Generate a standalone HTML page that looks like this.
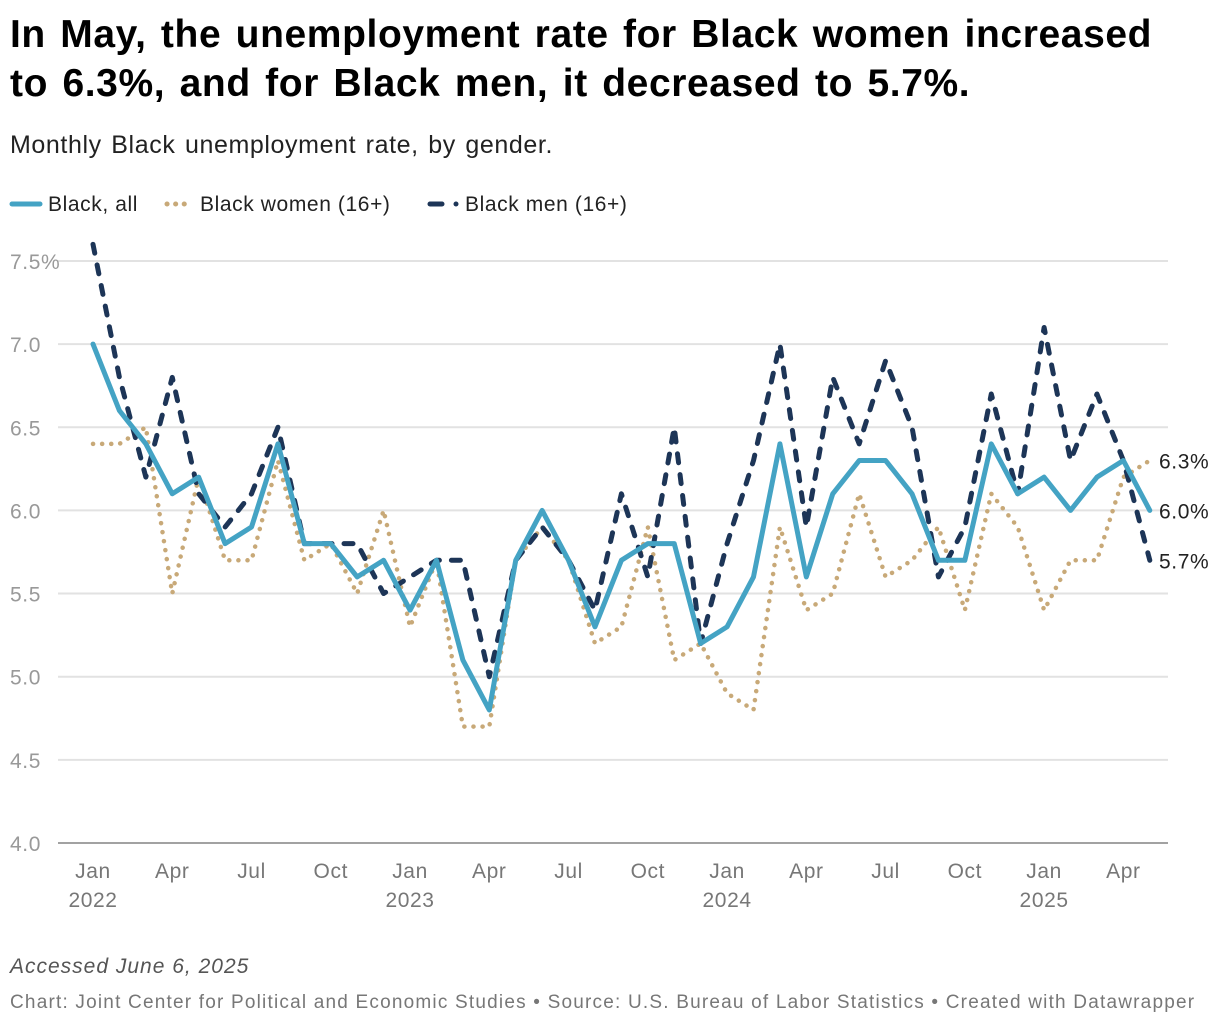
<!DOCTYPE html>
<html><head><meta charset="utf-8"><style>
body{margin:0;width:1220px;height:1028px;background:#fff;font-family:"Liberation Sans",sans-serif;overflow:hidden}
.t{position:absolute;left:10px;top:10px;font-size:39px;font-weight:bold;line-height:49px;color:#000;width:1190px;letter-spacing:0.6px;word-spacing:3px}
.s{position:absolute;left:10px;top:131px;font-size:25px;color:#222;letter-spacing:0.6px;word-spacing:2px}
.f1{position:absolute;left:10px;top:955px;font-size:21px;font-style:italic;color:#555;letter-spacing:1px}
.f2{position:absolute;left:10px;top:992px;font-size:19px;color:#777;letter-spacing:1.2px;white-space:nowrap}
svg text{letter-spacing:0.6px}
</style></head><body>
<div class="t">In May, the unemployment rate for Black women increased to 6.3%, and for Black men, it decreased to 5.7%.</div>
<div class="s">Monthly Black unemployment rate, by gender.</div>
<svg id="c" width="1220" height="1028" style="position:absolute;left:0;top:0"></svg>
<div class="f1">Accessed June 6, 2025</div>
<div class="f2">Chart: Joint Center for Political and Economic Studies • Source: U.S. Bureau of Labor Statistics • Created with Datawrapper</div>
<script>
const yTicks=[4.0,4.5,5.0,5.5,6.0,6.5,7.0,7.5];
const xTickMonths=[0,3,6,9,12,15,18,21,24,27,30,33,36,39];
const xTickLabels=["Jan","Apr","Jul","Oct","Jan","Apr","Jul","Oct","Jan","Apr","Jul","Oct","Jan","Apr"];
const yearLabels=["2022","2023","2024","2025"];
const all=[7.0,6.6,6.4,6.1,6.2,5.8,5.9,6.4,5.8,5.8,5.6,5.7,5.4,5.7,5.1,4.8,5.7,6.0,5.7,5.3,5.7,5.8,5.8,5.2,5.3,5.6,6.4,5.6,6.1,6.3,6.3,6.1,5.7,5.7,6.4,6.1,6.2,6.0,6.2,6.3,6.0];
const women=[6.4,6.4,6.5,5.5,6.2,5.7,5.7,6.3,5.7,5.8,5.5,6.0,5.3,5.7,4.7,4.7,5.7,5.9,5.7,5.2,5.3,5.9,5.1,5.2,4.9,4.8,5.9,5.4,5.5,6.1,5.6,5.7,5.9,5.4,6.1,5.9,5.4,5.7,5.7,6.2,6.3];
const men=[7.6,6.8,6.2,6.8,6.1,5.9,6.1,6.5,5.8,5.8,5.8,5.5,5.6,5.7,5.7,5.0,5.7,5.9,5.7,5.4,6.1,5.6,6.5,5.2,5.8,6.3,7.0,5.9,6.8,6.4,6.9,6.5,5.6,5.9,6.7,6.1,7.1,6.3,6.7,6.3,5.7];
const svg=document.getElementById('c');const NS='http://www.w3.org/2000/svg';
const X=i=>93+i*26.42;const Y=v=>843-(v-4)*166.3;
function mk(t,a,p){const e=document.createElementNS(NS,t);for(const k in a)e.setAttribute(k,a[k]);(p||svg).appendChild(e);return e;}
yTicks.forEach((v,i)=>{
 const l=mk('line',{x1:58,x2:1168,y1:Y(v),y2:Y(v),stroke:i==0?'#444':'#e2e2e2','stroke-width':i==0?1:2});
 
 const t=mk('text',{x:10,y:Y(v)+8,'font-size':21,fill:'#999'});t.textContent=v.toFixed(1)+(i==7?'%':'');
 
});
xTickMonths.forEach((m,i)=>{
 const t=mk('text',{x:X(m),y:878,'font-size':21,fill:'#777','text-anchor':'middle'});t.textContent=xTickLabels[i];
 
});
yearLabels.forEach((y,i)=>{
 const t=mk('text',{x:X(i*12),y:907,'font-size':21,fill:'#777','text-anchor':'middle'});t.textContent=y;
 
});
function line(d,col,w,dash,name){
 const p=mk('polyline',{points:d.map((v,i)=>X(i)+','+Y(v)).join(' '),fill:'none',stroke:col,'stroke-width':w,'stroke-linecap':'round','stroke-linejoin':'round'});
 if(dash)p.setAttribute('stroke-dasharray',dash);
 
}
line(women,'#c8a978',4.5,'0.1 9','line-black-women');
line(men,'#1d3557',5,'9 12','line-black-men');
line(all,'#44a3c4',5,null,'line-black-all');
[[women,'6.3%'],[all,'6.0%'],[men,'5.7%']].forEach(([d,l])=>{
 const t=mk('text',{x:1159,y:Y(d[d.length-1])+8,'font-size':21,fill:'#222'});t.textContent=l;
 
});
const lg=mk('g',{});
mk('line',{x1:12,x2:40,y1:204,y2:204,stroke:'#44a3c4','stroke-width':5,'stroke-linecap':'round'},lg);
let t=mk('text',{x:48,y:211,'font-size':21,fill:'#222'},lg);t.textContent='Black, all';
mk('line',{x1:167,x2:189,y1:204,y2:204,stroke:'#c8a978','stroke-width':5,'stroke-linecap':'round','stroke-dasharray':'0.1 8.5'},lg);
t=mk('text',{x:200,y:211,'font-size':21,fill:'#222'},lg);t.textContent='Black women (16+)';
mk('line',{x1:430,x2:442,y1:204,y2:204,stroke:'#1d3557','stroke-width':5,'stroke-linecap':'round'},lg);
mk('circle',{cx:456,cy:204,r:2.5,fill:'#1d3557'},lg);
t=mk('text',{x:465,y:211,'font-size':21,fill:'#222'},lg);t.textContent='Black men (16+)';
</script>
</body></html>
